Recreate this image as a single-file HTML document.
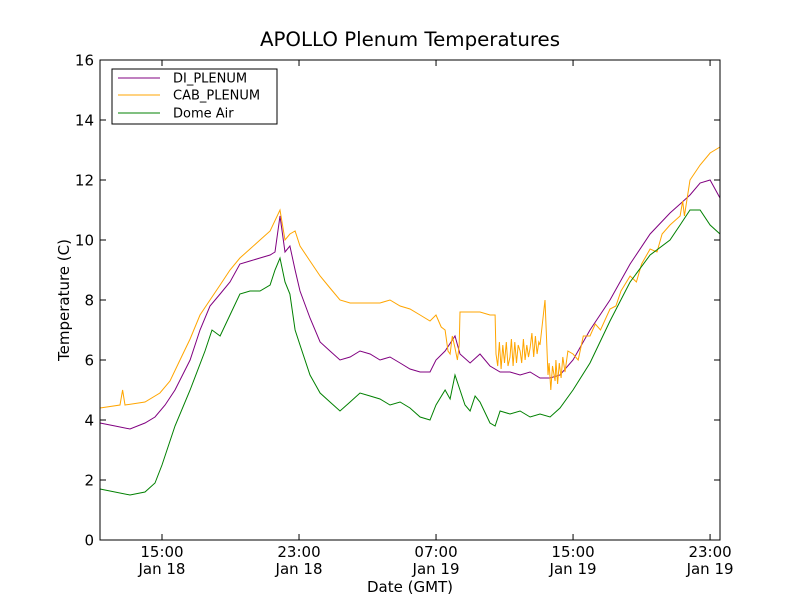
<!DOCTYPE html>
<html><head><meta charset="utf-8"><style>
body{margin:0;background:#fff;}
svg{display:block;font-family:"DejaVu Sans","Liberation Sans",sans-serif;}
</style></head><body>
<svg id="chart" width="800" height="600" viewBox="0 0 800 600">
<rect x="0" y="0" width="800" height="600" fill="#fff"/>
<text x="410" y="46" text-anchor="middle" font-size="19.8">APOLLO Plenum Temperatures</text>
<g id="plot"></g>
<rect x="100" y="60" width="620" height="480" fill="none" stroke="#000" stroke-width="1"/>
<text x="410" y="592" text-anchor="middle" font-size="15">Date (GMT)</text>
<text transform="translate(69,300) rotate(-90)" text-anchor="middle" font-size="15">Temperature (C)</text>
<g>
<rect x="112" y="69" width="165" height="55" fill="#fff" stroke="#000" stroke-width="1"/>
<g><line x1="118" y1="78" x2="160" y2="78" stroke="#800080"/><text x="173" y="82.5" font-size="13">DI_PLENUM</text></g>
<g><line x1="118" y1="95" x2="160" y2="95" stroke="#ffa500"/><text x="173" y="99.5" font-size="13">CAB_PLENUM</text></g>
<g><line x1="118" y1="113" x2="160" y2="113" stroke="#008000"/><text x="173" y="117.5" font-size="13">Dome Air</text></g>
</g>
</svg>
<script>
const xTicks=[15,23,31,39,47];
const xTickTime=["15:00","23:00","07:00","15:00","23:00"];
const xTickDate=["Jan 18","Jan 18","Jan 19","Jan 19","Jan 19"];
const yTicks=[0,2,4,6,8,10,12,14,16];
const domeT=[11.38,13.13,14.01,14.59,15,15.76,16.64,17.51,17.92,18.39,18.97,19.55,20.14,20.72,21.31,21.6,21.89,22.18,22.47,22.77,23.06,23.64,24.23,24.81,25.39,25.98,26.56,27.15,27.73,28.31,28.9,29.48,30.07,30.65,31,31.53,31.82,32.11,32.4,32.69,32.99,33.28,33.57,34.15,34.45,34.74,35.32,35.91,36.49,37.07,37.66,38.24,39,39.99,41.16,42.33,43.5,44.66,45.25,45.83,46.42,47,47.58];
const domeV=[1.7,1.5,1.6,1.9,2.5,3.8,5.0,6.3,7.0,6.8,7.5,8.2,8.3,8.3,8.5,9.0,9.4,8.6,8.2,7.0,6.5,5.5,4.9,4.6,4.3,4.6,4.9,4.8,4.7,4.5,4.6,4.4,4.1,4.0,4.5,5.0,4.7,5.5,5.0,4.5,4.3,4.8,4.6,3.9,3.8,4.3,4.2,4.3,4.1,4.2,4.1,4.4,5.0,5.9,7.3,8.6,9.5,10.0,10.5,11.0,11.0,10.5,10.2];
const diT=[11.38,12.26,13.13,14.01,14.59,15.18,15.76,16.64,17.22,17.80,18.39,18.97,19.55,20.14,20.72,21.31,21.6,21.89,22.18,22.47,22.77,23.06,23.64,24.23,24.81,25.39,25.98,26.56,27.15,27.73,28.31,28.9,29.48,30.07,30.65,31,31.53,32.11,32.4,32.99,33.57,34.15,34.74,35.32,35.91,36.49,37.07,37.66,38.24,39,39.99,41.16,42.33,43.5,44.66,45.25,45.83,46.42,47,47.58];
const diV=[3.9,3.8,3.7,3.9,4.1,4.5,5.0,6.0,7.0,7.8,8.2,8.6,9.2,9.3,9.4,9.5,9.6,10.8,9.6,9.8,9.0,8.3,7.4,6.6,6.3,6.0,6.1,6.3,6.2,6.0,6.1,5.9,5.7,5.6,5.6,6.0,6.3,6.8,6.2,5.9,6.2,5.8,5.6,5.6,5.5,5.6,5.4,5.4,5.5,6.0,7.0,8.0,9.2,10.2,10.9,11.2,11.5,11.9,12.0,11.4];
const cabT=[11.38,12.55,12.7,12.84,14.01,14.88,15.47,16.05,16.64,17.22,17.80,18.39,18.97,19.55,20.14,20.72,21.31,21.89,22.18,22.47,22.77,23.06,23.64,24.23,24.81,25.39,25.98,26.56,27.15,27.73,28.31,28.9,29.48,30.07,30.65,31,31.3,31.53,31.7,31.82,31.95,32.11,32.25,32.35,32.4,32.99,33.57,34.15,34.45,34.5,34.6,34.7,34.8,34.9,35.0,35.1,35.2,35.32,35.4,35.5,35.6,35.7,35.8,35.91,36.0,36.1,36.2,36.3,36.4,36.49,36.6,36.7,36.8,36.9,37.0,37.07,37.36,37.54,37.6,37.7,37.8,37.95,38.0,38.1,38.2,38.3,38.4,38.53,38.7,39,39.3,39.6,39.99,40.3,40.6,41.16,41.5,41.8,42.33,42.7,43.0,43.5,43.9,44.2,44.66,45.25,45.4,45.5,45.83,46.42,47,47.58];
const cabV=[4.4,4.5,5.0,4.5,4.6,4.9,5.3,6.0,6.7,7.5,8.0,8.5,9.0,9.4,9.7,10.0,10.3,11.0,10.0,10.2,10.3,9.8,9.3,8.8,8.4,8.0,7.9,7.9,7.9,7.9,8.0,7.8,7.7,7.5,7.3,7.5,7.1,7.0,6.3,6.2,6.8,6.4,6.0,6.5,7.6,7.6,7.6,7.5,7.5,6.2,5.8,6.6,5.7,6.5,5.9,6.6,5.8,6.1,6.7,5.8,6.6,5.9,6.5,6.3,5.9,6.7,6.0,6.5,6.1,6.4,6.9,6.1,6.8,6.2,6.6,6.5,8.0,5.5,5.9,5.0,5.8,5.3,6.0,5.2,5.9,5.4,6.1,5.6,6.3,6.2,6.0,6.8,6.8,7.2,7.0,7.7,7.8,8.3,8.8,8.6,9.2,9.7,9.6,10.2,10.5,10.8,11.3,10.8,12.0,12.5,12.9,13.1];
const X0=100,X1=720,Y0=540,Y1=60,T0=11.38,T1=47.58,V0=0,V1=16;
const xs=t=>X0+(t-T0)/(T1-T0)*(X1-X0);
const ys=v=>Y0-(v-V0)/(V1-V0)*(Y0-Y1);
const NS="http://www.w3.org/2000/svg";
const plot=document.getElementById('plot');
function mk(tag,attrs,parent){const e=document.createElementNS(NS,tag);for(const k in attrs)e.setAttribute(k,attrs[k]);(parent||plot).appendChild(e);return e;}
function series(T,V,color,name){
  const d=T.map((t,i)=>(i?'L':'M')+xs(t).toFixed(1)+','+ys(V[i]).toFixed(1)).join('');
  const p=mk('path',{d:d,fill:'none',stroke:color,'stroke-width':1});
  
  
}
series(diT,diV,'#800080','di-plenum-line');
series(cabT,cabV,'#ffa500','cab-plenum-line');
series(domeT,domeV,'#008000','dome-air-line');
yTicks.forEach(v=>{
  const y=ys(v);
  const t1=mk('line',{x1:X0,x2:X0+6,y1:y,y2:y,stroke:'#000'});
  
  
  mk('line',{x1:X1-6,x2:X1,y1:y,y2:y,stroke:'#000'});
  const tx=mk('text',{x:X0-6,y:y+5.5,'text-anchor':'end','font-size':15});
  tx.textContent=v;
  
  
});
xTicks.forEach((t,i)=>{
  const x=xs(t);
  const l=mk('line',{x1:x,x2:x,y1:Y0,y2:Y0-6,stroke:'#000'});
  
  
  mk('line',{x1:x,x2:x,y1:Y1,y2:Y1+6,stroke:'#000'});
  const a=mk('text',{x:x,y:Y0+17,'text-anchor':'middle','font-size':15});
  a.textContent=xTickTime[i];
  
  
  const b=mk('text',{x:x,y:Y0+34,'text-anchor':'middle','font-size':15});
  b.textContent=xTickDate[i];
  
  
});
</script>
</body></html>
